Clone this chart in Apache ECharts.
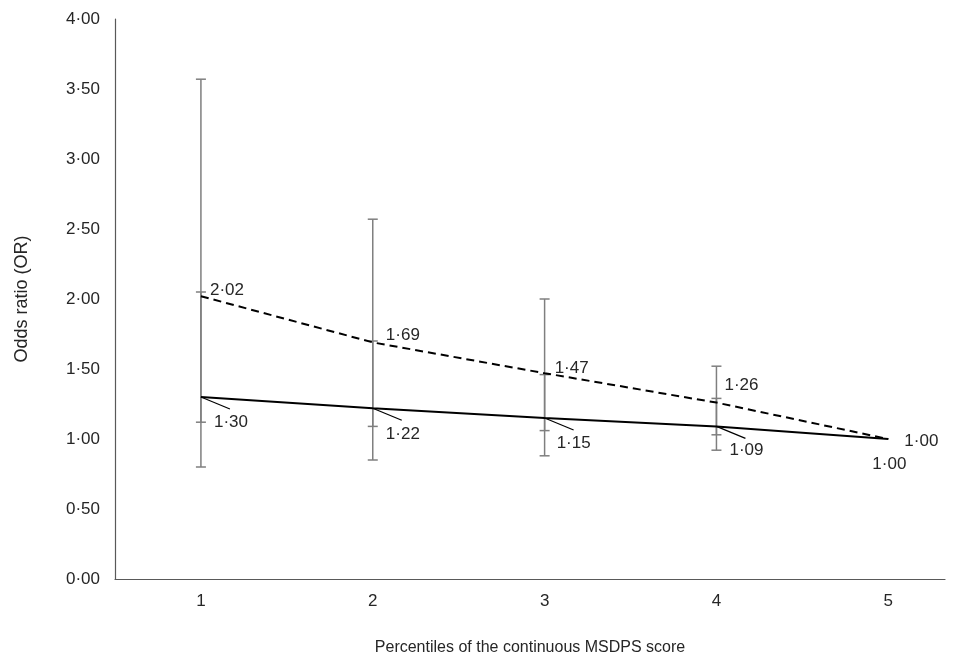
<!DOCTYPE html>
<html>
<head>
<meta charset="utf-8">
<script src="https://cdn.jsdelivr.net/npm/echarts@6/dist/echarts.min.js"></script>
<style>
html,body{margin:0;padding:0;background:#fff;}
#chart{width:961px;height:661px;}
</style>
</head>
<body>
<div id="chart"></div>
<script>
// ---- data ----
const categories = [1, 2, 3, 4, 5];
const orDashed = [2.02, 1.69, 1.47, 1.26, 1.00];
const orSolid = [1.30, 1.22, 1.15, 1.09, 1.00];
const ciDashedLow = [1.12, 1.09, 1.06, 1.03, null];
const ciDashedHigh = [3.57, 2.57, 2.00, 1.52, null];
const ciSolidLow = [0.80, 0.85, 0.88, 0.92, null];
const ciSolidHigh = [2.05, 1.70, 1.46, 1.29, null];
const yTickValues = [0, 0.5, 1, 1.5, 2, 2.5, 3, 3.5, 4];
const xAxisTitle = 'Percentiles of the continuous MSDPS score';
const yAxisTitle = 'Odds ratio (OR)';

// ---- styling helpers ----
const FONT = '"Liberation Sans", Arial, sans-serif';
const TEXT = '#262626';
const fmt = v => v.toFixed(2).replace('.', '\u00B7');
const dashedOffsets = [[9, -6], [13, -7], [10, -5], [8, -17], [16, 2]];
const solidOffsets = [[13, 25], [13, 26], [12, 25], [13, 24], [-16, 25]];
const leaderVec = [29, 12];

function errData(lo, hi) {
  const out = [];
  categories.forEach((c, i) => { if (lo[i] != null) out.push([c, lo[i], hi[i]]); });
  return out;
}
function errRender(params, api) {
  const x = api.value(0);
  const p1 = api.coord([x, api.value(1)]);
  const p2 = api.coord([x, api.value(2)]);
  const w = 5;
  const st = { stroke: '#7f7f7f', lineWidth: 1.5 };
  return {
    type: 'group',
    children: [
      { type: 'line', shape: { x1: p1[0], y1: p1[1], x2: p2[0], y2: p2[1] }, style: st },
      { type: 'line', shape: { x1: p1[0] - w, y1: p1[1], x2: p1[0] + w, y2: p1[1] }, style: st },
      { type: 'line', shape: { x1: p2[0] - w, y1: p2[1], x2: p2[0] + w, y2: p2[1] }, style: st }
    ]
  };
}
function lineData(vals, offs) {
  return categories.map((c, i) => ({
    value: [c, vals[i]],
    label: { offset: offs[i] }
  }));
}

const chart = echarts.init(document.getElementById('chart'), null, { renderer: 'canvas' });
chart.setOption({
  animation: false,
  backgroundColor: '#fff',
  grid: { left: 115, right: 16, top: 19, bottom: 81, containLabel: false },
  xAxis: {
    type: 'value', min: 0.5, max: 5.33,
    name: xAxisTitle, nameLocation: 'middle', nameGap: 61,
    nameTextStyle: { fontFamily: FONT, fontSize: 16, color: TEXT },
    axisLine: { show: true, lineStyle: { color: '#595959', width: 1.2 } },
    axisTick: { show: false },
    splitLine: { show: false },
    axisLabel: {
      customValues: categories, margin: 14,
      fontFamily: FONT, fontSize: 17, color: TEXT,
      formatter: v => String(v)
    }
  },
  yAxis: {
    type: 'value', min: 0, max: 4, interval: 0.5,
    name: yAxisTitle, nameLocation: 'middle', nameGap: 84, nameRotate: 90,
    nameTextStyle: { fontFamily: FONT, fontSize: 18, color: TEXT },
    axisLine: { show: true, lineStyle: { color: '#595959', width: 1.2 } },
    axisTick: { show: false },
    splitLine: { show: false },
    axisLabel: {
      customValues: yTickValues, margin: 15,
      fontFamily: FONT, fontSize: 17, color: TEXT,
      formatter: v => fmt(v)
    }
  },
  series: [
    { type: 'custom', name: 'ciDashed', renderItem: errRender, data: errData(ciDashedLow, ciDashedHigh), z: 1, silent: true },
    { type: 'custom', name: 'ciSolid', renderItem: errRender, data: errData(ciSolidLow, ciSolidHigh), z: 1, silent: true },
    {
      type: 'custom', name: 'leaders', z: 3, silent: true,
      data: categories.slice(0, 4).map((c, i) => [c, orSolid[i]]),
      renderItem: (params, api) => {
        const p = api.coord([api.value(0), api.value(1)]);
        return { type: 'line', shape: { x1: p[0], y1: p[1], x2: p[0] + leaderVec[0], y2: p[1] + leaderVec[1] }, style: { stroke: '#000', lineWidth: 1.2 } };
      }
    },
    {
      type: 'line', name: 'dashed', z: 4,
      data: lineData(orDashed, dashedOffsets),
      symbol: 'circle', symbolSize: 0.1, itemStyle: { color: '#000' },
      lineStyle: { color: '#000', width: 2, type: [8, 5] },
      label: {
        show: true, position: 'right', distance: 0, align: 'left', verticalAlign: 'middle',
        fontFamily: FONT, fontSize: 17, color: TEXT,
        formatter: p => fmt(p.value[1])
      }
    },
    {
      type: 'line', name: 'solid', z: 4,
      data: lineData(orSolid, solidOffsets),
      symbol: 'circle', symbolSize: 0.1, itemStyle: { color: '#000' },
      lineStyle: { color: '#000', width: 2 },
      label: {
        show: true, position: 'right', distance: 0, align: 'left', verticalAlign: 'middle',
        fontFamily: FONT, fontSize: 17, color: TEXT,
        formatter: p => fmt(p.value[1])
      }
    }
  ]
});
</script>
</body>
</html>
